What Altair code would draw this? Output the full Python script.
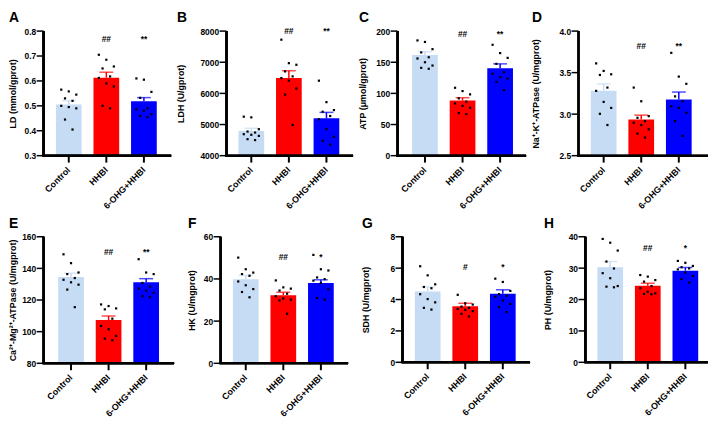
import altair as alt
import pandas as pd

groups = ["Control", "HHBI", "6-OHG+HHBI"]
bar_colors = ["#c6dbf4", "#ff0000", "#0000ff"]
err_colors = ["#b4cdef", "#ff4d4d", "#3333ff"]

# A: LD
ld_mean = [0.505, 0.613, 0.518]
ld_sem = [0.016, 0.022, 0.015]
ld_control = [0.565, 0.558, 0.545, 0.53, 0.52, 0.50, 0.495, 0.49, 0.445, 0.405]
ld_hhbi = [0.705, 0.685, 0.658, 0.65, 0.618, 0.612, 0.59, 0.578, 0.50, 0.49]
ld_ohg = [0.61, 0.605, 0.556, 0.532, 0.49, 0.486, 0.48, 0.466, 0.46, 0.455]
ld_sig = ["", "##", "**"]

# B: LDH
ldh_mean = [4796, 6493, 5199]
ldh_sem = [85, 234, 191]
ldh_control = [5252, 5230, 4850, 4775, 4743, 4690, 4670, 4635, 4530, 4500]
ldh_hhbi = [7724, 6970, 6918, 6706, 6546, 6493, 6408, 6154, 5963, 4987]
ldh_ohg = [6408, 5719, 5464, 5411, 5273, 5167, 4850, 4605, 4478, 4350]
ldh_sig = ["", "##", "**"]

# C: ATP
atp_mean = [161.6, 88.4, 140.5]
atp_sem = [5.2, 4.6, 6.9]
atp_control = [185, 182.6, 171, 165.8, 158, 156, 150, 144.7, 141, 139.5]
atp_hhbi = [109, 103.7, 98.4, 92, 86.8, 84, 80, 77, 68.4, 66.8]
atp_ohg = [178, 164.7, 157, 147.4, 134, 131.6, 126, 123.7, 118.4, 105]
atp_sig = ["", "##", "**"]

# D: Na+-K+-ATPase
nka_mean = [3.282, 2.937, 3.175]
nka_sem = [0.083, 0.051, 0.091]
nka_control = [3.611, 3.52, 3.48, 3.472, 3.32, 3.28, 3.147, 3.075, 3.004, 2.869]
nka_hhbi = [3.32, 3.155, 2.976, 2.956, 2.916, 2.897, 2.869, 2.817, 2.766, 2.718]
nka_ohg = [3.738, 3.452, 3.365, 3.214, 3.155, 3.095, 3.075, 3.016, 2.916, 2.738]
nka_sig = ["", "##", "**"]

# E: Ca2+-Mg2+-ATPase
cma_mean = [134.5, 107.4, 131.2]
cma_sem = [2.5, 2.5, 2.3]
cma_control = [148.9, 143.3, 137.4, 136.4, 133.9, 132.8, 131.2, 129.7, 126.6, 115.5]
cma_hhbi = [117.2, 116.2, 114.7, 114.1, 108.2, 103.6, 101.5, 97.3, 95.6, 94.6]
cma_ohg = [145.8, 137.4, 136.4, 130.8, 128.5, 127.2, 126, 124.5, 122.4, 121.8]
cma_sig = ["", "##", "**"]

# F: HK
hk_mean = [39.9, 32.3, 38.1]
hk_sem = [1.8, 1.4, 1.5]
hk_control = [50.1, 44.6, 43, 42.3, 41.5, 38.8, 37, 35.2, 33.8, 31.3]
hk_hhbi = [39.3, 36, 35.4, 34.5, 33, 31.8, 30.7, 30.2, 29.8, 23.5]
hk_ohg = [51.4, 44.6, 44, 40.7, 39.9, 39.2, 38.1, 35, 31, 30.2]
hk_sig = ["", "##", "*"]

# G: SDH
sdh_mean = [4.51, 3.57, 4.37]
sdh_sem = [0.29, 0.19, 0.25]
sdh_control = [6.12, 5.54, 4.97, 4.80, 4.72, 4.34, 4.03, 3.82, 3.47, 3.36]
sdh_hhbi = [4.30, 3.76, 3.68, 3.55, 3.47, 3.40, 3.34, 3.26, 3.09, 2.92]
sdh_ohg = [5.33, 5.12, 4.55, 4.34, 4.24, 4.18, 3.93, 3.72, 3.51, 3.20]
sdh_sig = ["", "#", "*"]

# H: PH
ph_mean = [30.3, 24.4, 29.2]
ph_sem = [1.8, 0.8, 1.0]
ph_control = [39.3, 38.1, 35.6, 32.1, 29.9, 28.4, 26.8, 24.3, 24.1, 23.9]
ph_hhbi = [27.8, 27.3, 26.2, 25.7, 24.3, 23.6, 22.5, 22.0, 21.8, 21.7]
ph_ohg = [32.3, 31.7, 30.7, 30.3, 29.9, 29.6, 28.6, 27.5, 26.5, 25.4]
ph_sig = ["", "##", "*"]

panels = [
    dict(letter="A", ytitle="LD (mmol/gprot)", lo=0.3, hi=0.8, ticks=[0.3, 0.4, 0.5, 0.6, 0.7, 0.8], fmt=".1f",
         mean=ld_mean, sem=ld_sem, pts=[ld_control, ld_hhbi, ld_ohg], sig=ld_sig, sig_y=0.768),
    dict(letter="B", ytitle="LDH (U/gprot)", lo=4000, hi=8000, ticks=[4000, 5000, 6000, 7000, 8000], fmt="d",
         mean=ldh_mean, sem=ldh_sem, pts=[ldh_control, ldh_hhbi, ldh_ohg], sig=ldh_sig, sig_y=8010),
    dict(letter="C", ytitle="ATP (μmol/gprot)", lo=0, hi=200, ticks=[0, 50, 100, 150, 200], fmt="d",
         mean=atp_mean, sem=atp_sem, pts=[atp_control, atp_hhbi, atp_ohg], sig=atp_sig, sig_y=194.7),
    dict(letter="D", ytitle="Na⁺-K⁺-ATPase (U/mgprot)", lo=2.5, hi=4.0, ticks=[2.5, 3.0, 3.5, 4.0], fmt=".1f",
         mean=nka_mean, sem=nka_sem, pts=[nka_control, nka_hhbi, nka_ohg], sig=nka_sig, sig_y=3.817),
    dict(letter="E", ytitle="Ca²⁺-Mg²⁺-ATPase (U/mgprot)", lo=80, hi=160, ticks=[80, 100, 120, 140, 160], fmt="d",
         mean=cma_mean, sem=cma_sem, pts=[cma_control, cma_hhbi, cma_ohg], sig=cma_sig, sig_y=150.2),
    dict(letter="F", ytitle="HK (U/mgprot)", lo=0, hi=60, ticks=[0, 20, 40, 60], fmt="d",
         mean=hk_mean, sem=hk_sem, pts=[hk_control, hk_hhbi, hk_ohg], sig=hk_sig, sig_y=50.6),
    dict(letter="G", ytitle="SDH (U/mgprot)", lo=0, hi=8, ticks=[0, 2, 4, 6, 8], fmt="d",
         mean=sdh_mean, sem=sdh_sem, pts=[sdh_control, sdh_hhbi, sdh_ohg], sig=sdh_sig, sig_y=6.06),
    dict(letter="H", ytitle="PH (U/mgprot)", lo=0, hi=40, ticks=[0, 10, 20, 30, 40], fmt="d",
         mean=ph_mean, sem=ph_sem, pts=[ph_control, ph_hhbi, ph_ohg], sig=ph_sig, sig_y=36.3),
]

# layout: plot width, plot height, left extent, left domain offset
layout = [
    (129, 126, 35, -0.67), (128, 126, 50, -0.66), (130, 126, 39, -0.73), (131, 126, 47, -0.67),
    (132, 128, 35, -0.73), (129, 128, 33, -0.67), (129, 127, 41, -0.67), (124, 127, 42, -0.66),
]

FONT = "Liberation Sans"
STEP = 38.0
TITLE_H = 9
TITLE_PAD = 2
TICK = 7

color_enc = alt.Color("g:N", scale=alt.Scale(domain=groups, range=bar_colors), legend=None)
err_enc = alt.Color("g:N", scale=alt.Scale(domain=groups, range=err_colors), legend=None)


def make_panel(p, W, H, L, x0):
    xmax = x0 + W / STEP
    bar_df = pd.DataFrame({
        "idx": [0, 1, 2], "g": groups, "mean": p["mean"],
        "top": [m + s for m, s in zip(p["mean"], p["sem"])],
        "base": [p["lo"]] * 3, "sig": p["sig"], "sy": [p["sig_y"]] * 3,
    })
    rows = []
    for gi, vals in enumerate(p["pts"]):
        for i, v in enumerate(sorted(vals, reverse=True)):
            off = (((i * 7) % 5) - 2) * 0.1
            rows.append({"xp": gi + off, "v": v})
    pts_df = pd.DataFrame(rows)
    tick_df = pd.DataFrame({"t": p["ticks"]})

    xs = alt.Scale(domain=[x0, xmax], nice=False, zero=False)
    ys = alt.Scale(domain=[p["lo"], p["hi"]], nice=False, zero=False)
    E = L - TITLE_H - TITLE_PAD
    y_axis = alt.Axis(values=p["ticks"], format=p["fmt"], title=p["ytitle"], minExtent=E, maxExtent=E,
                      titlePadding=TITLE_PAD, ticks=False, domain=False, labelOverlap=False,
                      labelFontSize=8.5, labelFontWeight="bold", labelPadding=TICK + 1,
                      titleFontSize=9, titleFontWeight="bold", grid=False)

    def X(f):
        return alt.X(f, scale=xs, axis=None)

    def Y(f):
        return alt.Y(f, scale=ys, axis=y_axis)

    bars = alt.Chart(bar_df).mark_bar(width=26).encode(
        x=X("idx:Q"), y=Y("mean:Q"), y2=alt.Y2("base:Q"), color=color_enc)
    err = alt.Chart(bar_df).mark_rule(strokeWidth=1.5).encode(
        x=X("idx:Q"), y=Y("mean:Q"), y2=alt.Y2("top:Q"), color=err_enc)
    cap = alt.Chart(bar_df).mark_tick(orient="horizontal", size=14, thickness=1.5).encode(
        x=X("idx:Q"), y=Y("top:Q"), color=err_enc)
    dots = alt.Chart(pts_df).mark_square(size=5, color="black", opacity=1).encode(
        x=X("xp:Q"), y=Y("v:Q"))
    sig = alt.Chart(bar_df).mark_text(font=FONT, fontSize=8.5, fontWeight="bold", baseline="middle",
                                      color="black").encode(x=X("idx:Q"), y=Y("sy:Q"), text="sig:N")
    # axis lines, ticks and rotated category labels
    ydom = alt.Chart(tick_df).mark_rule(color="black", strokeWidth=2).encode(
        x=alt.value(0), y=alt.value(0), y2=alt.value(H))
    yticks = alt.Chart(tick_df).mark_rule(color="black", strokeWidth=1.5).encode(
        x=alt.value(-TICK), x2=alt.value(0), y=Y("t:Q"))
    xdom = alt.Chart(tick_df).mark_rule(color="black", strokeWidth=2).encode(
        x=alt.value(-1), x2=alt.value(W), y=alt.value(H))
    xticks = alt.Chart(bar_df).mark_rule(color="black", strokeWidth=2).encode(
        x=X("idx:Q"), y=alt.value(H), y2=alt.value(H + TICK))
    xlabels = alt.Chart(bar_df).mark_text(font=FONT, fontSize=9, fontWeight="bold", angle=315,
                                          align="right", baseline="middle", color="black").encode(
        x=X("idx:Q"), y=alt.value(H + TICK + 6), text="g:N")
    return alt.layer(bars, err, cap, dots, sig, ydom, yticks, xdom, xticks, xlabels).properties(
        width=W, height=H,
        title=alt.TitleParams(p["letter"], anchor="start", fontSize=14, fontWeight="bold",
                              font=FONT, offset=2, color="black"),
    )


charts = [make_panel(p, *lay) for p, lay in zip(panels, layout)]
row1 = alt.hconcat(*charts[:4], spacing=5)
row2 = alt.hconcat(*charts[4:], spacing=13)
chart = alt.vconcat(row1, row2, spacing=6).properties(padding=0).configure_view(
    stroke=None
).configure_axis(
    labelFont=FONT, titleFont=FONT, labelColor="black", titleColor="black",
).configure_scale(continuousPadding=0)

chart.save("out.html", embed_options={"renderer": "svg", "actions": False})
